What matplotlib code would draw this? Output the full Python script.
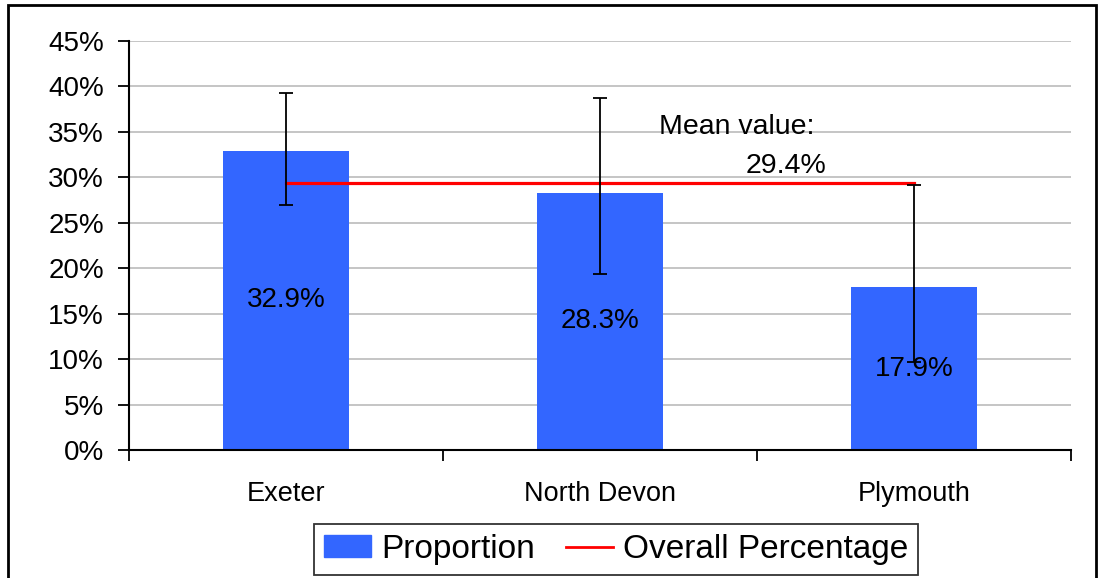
import matplotlib
matplotlib.use("Agg")
import matplotlib.pyplot as plt
from matplotlib.patches import Rectangle
from matplotlib.lines import Line2D
import numpy as np

plt.rcParams['font.family'] = ['Liberation Sans', 'DejaVu Sans']

categories = ["Exeter", "North Devon", "Plymouth"]
proportion = [32.9, 28.3, 17.9]
err_low = [27.0, 19.4, 9.7]
err_high = [39.3, 38.7, 29.2]
overall = 29.4
yticks = [0, 5, 10, 15, 20, 25, 30, 35, 40, 45]

fig = plt.figure(figsize=(10.98, 5.78), dpi=100)
ax = fig.add_axes([129/1098, (578-450)/578, (1071-129)/1098, (450-41)/578])

x = np.arange(len(categories))
blue = "#3366FF"
ax.bar(x, proportion, width=0.4, color=blue, zorder=2)
yerr = [np.array(proportion) - np.array(err_low), np.array(err_high) - np.array(proportion)]
ax.errorbar(x, proportion, yerr=yerr, fmt='none', ecolor='black', elinewidth=1.3,
            capsize=5, capthick=1.3, zorder=4)
ax.plot([x[0], x[-1]], [overall, overall], color='#FF0000', lw=2.3, zorder=3)

for xi, v in zip(x, proportion):
    ax.text(xi, v / 2, f"{v:.1f}%", ha='center', va='center', fontsize=20, zorder=5)

ax.text(1.436, 35.5, "Mean value:", ha='center', va='center', fontsize=20.5)
ax.text(1.592, 31.3, f"{overall:.1f}%", ha='center', va='center', fontsize=20.5)

ax.set_xlim(-0.5, 2.5)
ax.set_ylim(0, 45)
ax.set_yticks(yticks)
ax.set_yticklabels([f"{t}%" for t in yticks], fontsize=20)
ax.set_xticks(x)
ax.set_xticklabels(categories, fontsize=19.5)
ax.tick_params(axis='x', length=0, pad=22)
ax.set_xticks([-0.5, 0.5, 1.5, 2.5], minor=True)
ax.tick_params(axis='x', which='minor', length=8, width=1.3, direction='out')
ax.tick_params(axis='y', length=8, width=1.3, direction='out', pad=10)
ax.grid(axis='y', color='#C0C0C0', lw=1.3, zorder=0)
ax.set_axisbelow(True)
for s in ['top', 'right']:
    ax.spines[s].set_visible(False)
for s in ['left', 'bottom']:
    ax.spines[s].set_linewidth(1.5)

handles = [Rectangle((0, 0), 1, 1, color=blue), Line2D([0], [0], color='#FF0000', lw=2)]
leg = fig.legend(handles, ["Proportion", "Overall Percentage"], loc='center',
                 bbox_to_anchor=(616/1098, 1 - 549.5/578), ncol=2, fontsize=24,
                 frameon=True, fancybox=False, edgecolor='black', handlelength=1.42,
                 handleheight=0.62, columnspacing=0.93, borderpad=0.3, handletextpad=0.3,
                 borderaxespad=0)
leg.get_frame().set_linewidth(1.3)

fig.patches.append(Rectangle((8/1098, -0.01), (1096-8)/1098, 1 - 5/578 + 0.01,
                             transform=fig.transFigure, fill=False, edgecolor='black', lw=2))

fig.savefig("out.png", dpi=100)
